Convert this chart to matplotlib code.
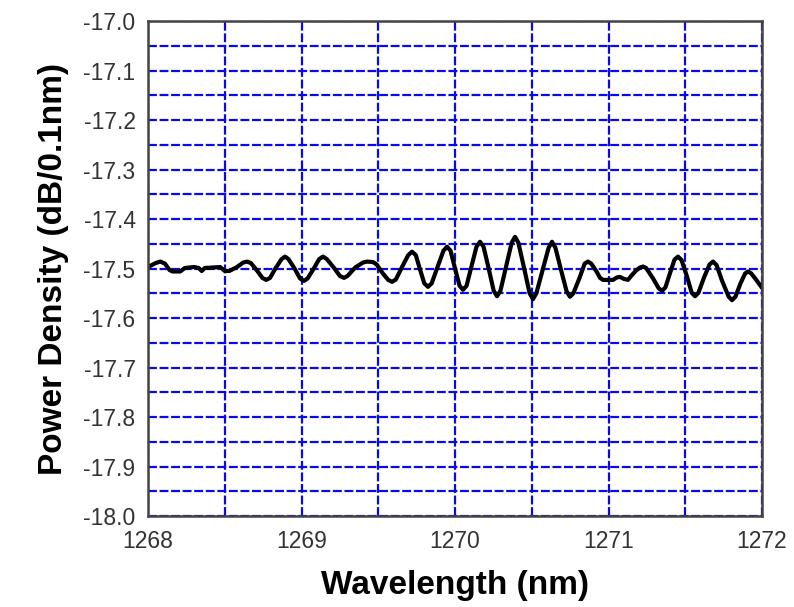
import matplotlib
matplotlib.use("Agg")
from matplotlib import pyplot as plt
from matplotlib.ticker import MultipleLocator, FormatStrFormatter

# wavelength (nm) and power density (dB/0.1nm)
wl = [1268.00, 1268.05, 1268.08, 1268.11, 1268.14, 1268.16, 1268.21, 1268.24,
      1268.30, 1268.33, 1268.35, 1268.37, 1268.47, 1268.50, 1268.53, 1268.58,
      1268.62, 1268.645, 1268.67, 1268.71, 1268.745, 1268.77, 1268.795, 1268.83,
      1268.87, 1268.893, 1268.915, 1268.955, 1268.99, 1269.016, 1269.04, 1269.08,
      1269.115, 1269.14, 1269.165, 1269.21, 1269.25, 1269.277, 1269.30, 1269.35,
      1269.40, 1269.427, 1269.466, 1269.49, 1269.53, 1269.565, 1269.59, 1269.615,
      1269.655, 1269.695, 1269.72, 1269.745, 1269.77, 1269.80, 1269.824, 1269.848,
      1269.886, 1269.925, 1269.948, 1269.971, 1270.00, 1270.03, 1270.052, 1270.075,
      1270.108, 1270.14, 1270.163, 1270.186, 1270.22, 1270.252, 1270.274, 1270.296,
      1270.333, 1270.369, 1270.391, 1270.413, 1270.45, 1270.486, 1270.508, 1270.53,
      1270.57, 1270.61, 1270.632, 1270.654, 1270.69, 1270.727, 1270.749, 1270.771,
      1270.81, 1270.845, 1270.866, 1270.887, 1270.92, 1270.945, 1270.964, 1271.03,
      1271.055, 1271.075, 1271.10, 1271.127, 1271.15, 1271.18, 1271.205, 1271.225,
      1271.245, 1271.29, 1271.327, 1271.349, 1271.371, 1271.40, 1271.43, 1271.453,
      1271.476, 1271.51, 1271.542, 1271.564, 1271.586, 1271.62, 1271.658, 1271.681,
      1271.704, 1271.74, 1271.783, 1271.805, 1271.827, 1271.86, 1271.89, 1271.909,
      1271.93, 1271.96, 1272.00]
pd_db = [-17.497, -17.489, -17.486, -17.490, -17.503, -17.506, -17.506, -17.499,
         -17.497, -17.499, -17.505, -17.499, -17.497, -17.505, -17.505, -17.497,
         -17.488, -17.486, -17.489, -17.504, -17.519, -17.523, -17.519, -17.500,
         -17.481, -17.476, -17.481, -17.500, -17.520, -17.525, -17.520, -17.500,
         -17.481, -17.476, -17.481, -17.498, -17.515, -17.519, -17.515, -17.498,
         -17.488, -17.486, -17.487, -17.492, -17.510, -17.523, -17.527, -17.522,
         -17.497, -17.473, -17.466, -17.473, -17.500, -17.530, -17.537, -17.530,
         -17.497, -17.464, -17.456, -17.464, -17.500, -17.535, -17.543, -17.535,
         -17.495, -17.456, -17.446, -17.456, -17.501, -17.545, -17.556, -17.545,
         -17.496, -17.448, -17.436, -17.448, -17.499, -17.550, -17.562, -17.550,
         -17.504, -17.458, -17.446, -17.458, -17.502, -17.546, -17.557, -17.550,
         -17.520, -17.490, -17.486, -17.490, -17.505, -17.519, -17.523, -17.523,
         -17.518, -17.517, -17.521, -17.523, -17.514, -17.504, -17.498, -17.496,
         -17.499, -17.520, -17.540, -17.545, -17.538, -17.510, -17.482, -17.476,
         -17.483, -17.515, -17.549, -17.556, -17.549, -17.520, -17.492, -17.486,
         -17.493, -17.525, -17.557, -17.564, -17.557, -17.530, -17.510, -17.506,
         -17.510, -17.522, -17.539]

plt.rcParams['font.family'] = ['Liberation Sans', 'DejaVu Sans']

fig = plt.figure(figsize=(7.94, 6.07), dpi=100)
ax = fig.add_axes([0.1864, 0.1499, 0.7733, 0.8155])

ax.plot(wl, pd_db, color='black', lw=3.0, solid_joinstyle='round',
        solid_capstyle='round', zorder=3)

ax.set_xlim(1268, 1272)
ax.set_ylim(-18.0, -17.0)
ax.xaxis.set_major_locator(MultipleLocator(1))
ax.xaxis.set_minor_locator(MultipleLocator(0.5))
ax.yaxis.set_major_locator(MultipleLocator(0.1))
ax.yaxis.set_minor_locator(MultipleLocator(0.05))
ax.yaxis.set_major_formatter(FormatStrFormatter('%.1f'))

ax.grid(True, which='both', color='#0a0ae8', linestyle=(0, (4, 1.2)), lw=1.6)
ax.set_axisbelow(True)

ax.tick_params(which='both', length=0, labelsize=16.5, labelcolor='#333333')
ax.tick_params(axis='y', pad=9)
ax.tick_params(axis='x', pad=10)

for s in ax.spines.values():
    s.set_color('#444444')
    s.set_linewidth(1.8)
    s.set_zorder(4)

ax.set_xlabel('Wavelength (nm)', fontsize=24, fontweight='bold', labelpad=12)
ax.set_ylabel('Power Density (dB/0.1nm)', fontsize=24, fontweight='bold', labelpad=10)

fig.savefig('out.png', dpi=100)
